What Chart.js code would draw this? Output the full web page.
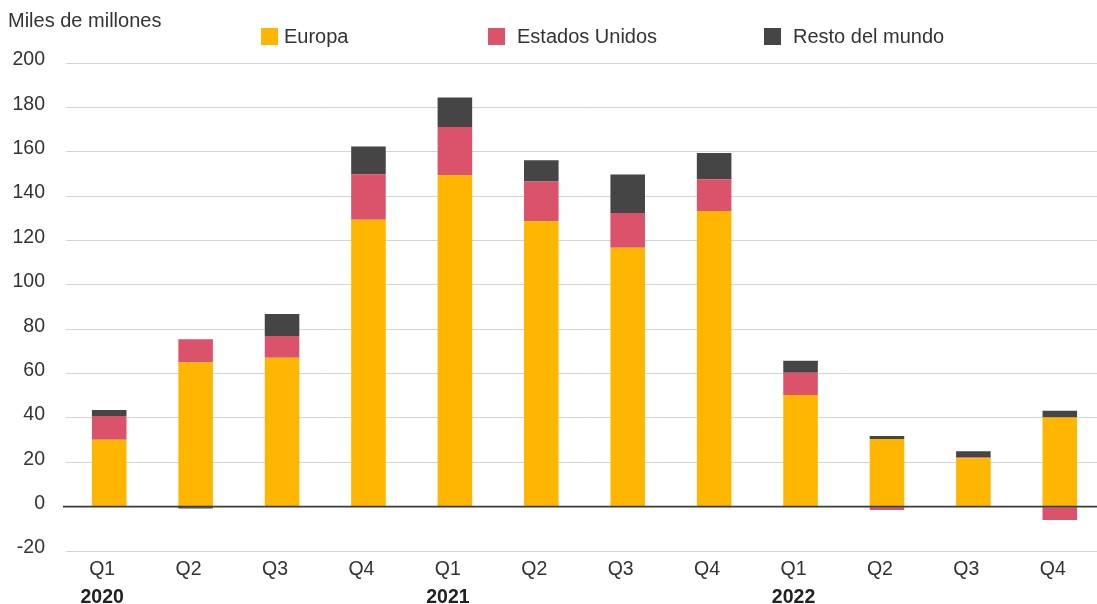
<!DOCTYPE html>
<html lang="es">
<head>
<meta charset="utf-8">
<title>Miles de millones por trimestre</title>
<script src="https://cdn.jsdelivr.net/npm/chart.js@4.4.1/dist/chart.umd.min.js"></script>
<style>
  html, body { margin: 0; padding: 0; background: #fff; overflow: hidden; }
  #wrap { position: relative; width: 1097px; height: 604px; overflow: hidden; }
  #chart-box { position: absolute; left: 0; top: 0; width: 1110px; height: 604px; }
  .txt { position: absolute; font-family: "Liberation Sans", Arial, sans-serif; font-size: 20px; color: #333; line-height: 24px; white-space: nowrap; }
  .sw { position: absolute; width: 17px; height: 17px; }
</style>
</head>
<body>
<div id="wrap">
  <div id="chart-box"><canvas id="c"></canvas></div>
  <div class="txt" style="left:8px; top:8px;">Miles de millones</div>
  <div id="legend"></div>
</div>
<script>
// Quarters and the year each group starts in
const categories = ['Q1', 'Q2', 'Q3', 'Q4', 'Q1', 'Q2', 'Q3', 'Q4', 'Q1', 'Q2', 'Q3', 'Q4'];
const years = ['2020', '', '', '', '2021', '', '', '', '2022', '', '', ''];

// Values in miles de millones
const europa        = [30.1, 65.0, 67.1, 129.3, 149.4, 128.7, 116.7, 133.3, 50.3, 30.5, 21.8, 40.2];
const estadosUnidos = [10.8, 10.5,  9.8,  20.6,  21.8,  17.9,  15.7,  14.3, 10.1, -1.5,  0.3, -6.0];
const restoMundo    = [ 2.7, -0.8,  9.9,  12.5,  13.3,   9.6,  17.3,  11.8,  5.4,  1.4,  2.9,  3.0];

// Y axis ticks
const yMin = -20;
const yMax = 200;
const yStep = 20;

const seriesNames = ['Europa', 'Estados Unidos', 'Resto del mundo'];
const seriesColors = ['#FFB600', '#DB536A', '#454545'];

const FONT = '"Liberation Sans", Arial, sans-serif';

// Legend row: swatch left edge and text left edge for each entry
const legendSwatch = [261, 488, 764];
const legendText = [284, 517, 793];
const legendEl = document.getElementById('legend');
seriesNames.forEach((name, i) => {
  const sw = document.createElement('div');
  sw.className = 'sw';
  sw.style.left = legendSwatch[i] + 'px';
  sw.style.top = '28px';
  sw.style.background = seriesColors[i];
  legendEl.appendChild(sw);
  const t = document.createElement('div');
  t.className = 'txt';
  t.style.left = legendText[i] + 'px';
  t.style.top = '24px';
  t.textContent = name;
  legendEl.appendChild(t);
});

// Baseline at zero drawn over the bars
const zeroLine = {
  id: 'zeroLine',
  afterDatasetsDraw(chart) {
    const { ctx, chartArea, scales } = chart;
    const y = scales.y.getPixelForValue(0);
    ctx.save();
    ctx.strokeStyle = '#3a3a3a';
    ctx.lineWidth = 1.6;
    ctx.beginPath();
    ctx.moveTo(chartArea.left - 3, y);
    ctx.lineTo(chartArea.right, y);
    ctx.stroke();
    ctx.restore();
  }
};

const datasets = [europa, estadosUnidos, restoMundo].map((vals, i) => ({
  label: seriesNames[i],
  data: vals,
  backgroundColor: seriesColors[i],
  borderWidth: 0,
  categoryPercentage: 1,
  barPercentage: 0.4,
  stack: 'total'
}));

new Chart(document.getElementById('c'), {
  type: 'bar',
  data: { labels: categories, datasets },
  plugins: [zeroLine],
  options: {
    responsive: true,
    maintainAspectRatio: false,
    animation: false,
    events: [],
    layout: { padding: { top: 63, right: 7, left: 0, bottom: 0 } },
    plugins: { legend: { display: false }, tooltip: { enabled: false } },
    scales: {
      x: {
        stacked: true,
        afterFit(scale) { scale.height = 30; },
        grid: { display: false, drawTicks: false },
        border: { display: false },
        ticks: {
          autoSkip: false,
          maxRotation: 0,
          padding: 7,
          labelOffset: -7,
          color: '#333',
          font: { family: FONT, size: 19.5 }
        }
      },
      xYear: {
        type: 'category',
        position: 'bottom',
        labels: years,
        offset: true,
        afterFit(scale) { scale.height = 23; },
        grid: { display: false, drawTicks: false },
        border: { display: false },
        ticks: {
          autoSkip: false,
          maxRotation: 0,
          padding: 5,
          labelOffset: -7,
          color: '#222',
          font: { family: FONT, size: 19.5, weight: 'bold' }
        }
      },
      y: {
        stacked: true,
        min: yMin,
        max: yMax,
        afterFit(scale) { scale.width = 66; },
        grid: {
          drawTicks: false,
          lineWidth: 1,
          color: (c) => (c.tick && c.tick.value === 0 ? 'rgba(0,0,0,0)' : '#d4d4d4')
        },
        border: { display: false },
        ticks: {
          stepSize: yStep,
          padding: 21,
          labelOffset: -3,
          color: '#333',
          font: { family: FONT, size: 19.5 }
        }
      }
    }
  }
});
</script>
</body>
</html>
